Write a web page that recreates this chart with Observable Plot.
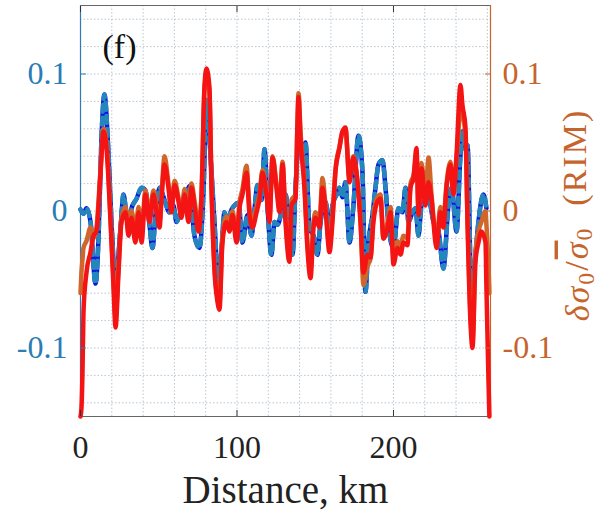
<!DOCTYPE html>
<html><head><meta charset="utf-8">
<script src="https://cdn.jsdelivr.net/npm/d3@7"></script>
<script src="https://cdn.jsdelivr.net/npm/@observablehq/plot@0.6"></script>
<style>body{margin:0;background:#fff;}</style>
</head><body><div id="chart"></div>
<script>
const xTicks = [0, 100, 200];
const yTicks = [-0.1, 0, 0.1];
const panelLabel = "(f)";
const xLabel = "Distance, km";

// Left-axis series (blue solid + teal dashed overlay)
const blueKm = [0,1.9,3.8,6.4,9.6,11.5,13.4,15.3,17.9,19.8,22.4,25.6,27.5,30.0,33.2,35.8,39.0,41.5,44.1,46.0,47.9,50.5,53.7,56.9,59.4,61.3,63.9,67.1,69.6,72.8,76.0,78.6,80.5,82.4,85.6,88.2,90.1,92.0,93.9,96.5,98.4,101.0,103.5,106.7,109.3,111.2,113.1,115.7,117.6,119.5,122.0,124.0,125.9,128.4,131.0,133.5,135.5,137.4,139.9,141.9,143.8,146.3,149.5,151.4,153.4,156.5,159.1,161.0,163.6,165.5,167.4,169.3,171.9,174.4,177.6,180.2,182.1,184.0,186.6,188.5,190.4,193.0,194.9,196.8,200.0,203.2,205.8,207.7,209.6,212.1,214.1,216.0,217.9,220.4,222.4,225.6,228.8,231.9,235.1,237.1,240.3,242.8,244.1,246.0,247.3,249.8,252.4,254.3,257.5,259.4];
const blueVal = [0.001,-0.002,0.002,-0.008,-0.053,-0.02,0.053,0.085,0.041,-0.008,-0.052,-0.012,0.012,-0.007,0.004,0.009,0.017,0.015,-0.01,-0.027,-0.003,0.017,0.008,-0.001,0.004,-0.008,-0.001,0.008,0.018,-0.018,-0.027,0.015,0.081,0.053,-0.008,-0.054,-0.028,-0.001,-0.008,0.001,0.004,0.006,-0.023,-0.003,-0.018,0.001,0.019,0.008,0.045,0.004,-0.032,-0.008,-0.01,-0.001,0.012,-0.015,-0.032,0.017,0.053,0.041,0.05,-0.012,-0.02,-0.032,-0.008,0.007,-0.012,0.004,0.012,0.017,0.01,0.021,-0.023,0.004,0.055,0.028,-0.059,-0.023,-0.003,0.017,0.034,0.037,0.017,-0.01,-0.027,0.002,-0.001,0.017,-0.008,-0.001,0.002,-0.018,0.004,0.008,0.009,-0.008,-0.015,-0.042,0.004,0.017,-0.015,0.041,0.058,0.045,0.048,-0.061,-0.032,-0.008,0.012,0.002];

// Right-axis series (RIM): red and orange
const rimKm = [0,0.6,1.3,1.9,3.8,6.4,8.3,10.2,12.8,14.7,16.6,19.2,21.1,22.4,24.3,26.2,28.8,30.7,32.6,35.1,37.1,39.0,41.5,44.1,46.6,48.6,50.5,51.8,53.7,56.2,58.1,60.1,62.6,64.5,66.5,69.0,70.9,72.8,75.4,77.3,79.2,80.5,82.4,83.7,85.6,87.5,88.8,90.7,93.3,95.2,97.1,99.7,101.6,103.5,106.1,108.0,109.9,112.5,114.4,116.3,118.8,120.8,122.7,125.2,127.2,129.1,131.0,133.5,134.8,137.4,138.7,139.3,140.6,143.1,145.0,147.0,148.9,150.2,152.7,154.6,156.5,159.1,161.0,162.9,165.5,167.4,169.3,171.9,174.4,177.0,178.9,180.8,183.4,185.3,187.2,189.8,191.7,193.6,196.2,198.1,200.0,202.6,204.5,206.4,208.9,210.9,212.8,214.7,216.0,217.9,220.4,222.4,224.3,226.8,227.5,230.0,231.9,233.9,236.4,238.3,240.3,242.8,244.1,246.0,247.3,249.2,250.5,252.4,254.3,256.2,258.8,259.4,260.7,261.3];
const redVal = [-0.15,-0.144,-0.116,-0.074,-0.045,-0.03,-0.018,-0.015,0.028,0.058,0.046,-0.008,-0.056,-0.085,-0.045,-0.008,-0.001,-0.018,-0.005,-0.023,-0.001,-0.023,0.012,-0.008,0.012,-0.001,-0.012,0.009,0.034,0.017,-0.001,0.019,0.007,-0.005,0.012,-0.008,0.017,0.004,-0.015,0.009,0.09,0.104,0.09,0.017,-0.043,-0.066,-0.072,-0.023,-0.008,-0.015,-0.003,-0.023,0.002,0.012,0.028,-0.003,-0.012,-0.001,0.009,0.028,0.012,-0.008,0.039,0.017,-0.001,0.034,-0.008,-0.037,0.004,0.009,0.065,0.083,0.053,0.017,-0.027,-0.049,-0.012,-0.005,-0.012,0.017,0.002,-0.03,-0.008,0.028,0.046,0.058,0.061,0.021,0.039,0.021,-0.008,-0.045,-0.032,-0.034,-0.008,0.007,0.009,-0.02,-0.012,-0.001,-0.039,-0.027,-0.032,-0.023,-0.025,0.017,0.024,0.046,-0.003,0.031,0.004,0.021,0.009,-0.023,-0.027,-0.001,-0.012,0.017,0.034,0.012,0.041,0.092,0.077,0.061,-0.008,-0.081,-0.1,-0.037,-0.023,-0.015,-0.023,-0.056,-0.123,-0.15];
const orangeVal = [-0.06,-0.045,-0.035,-0.027,-0.022,-0.012,-0.02,-0.012,0.03,0.06,0.05,-0.005,-0.05,-0.078,-0.04,-0.005,0.003,-0.012,0.0,-0.015,0.003,-0.015,0.015,-0.004,0.015,0.003,-0.008,0.012,0.04,0.02,0.003,0.022,0.01,-0.001,0.016,-0.004,0.02,0.008,-0.01,0.012,0.088,0.1,0.086,0.02,-0.04,-0.062,-0.066,-0.02,-0.004,-0.01,0.0,-0.018,0.006,0.016,0.033,0.002,-0.008,0.003,0.012,0.03,0.015,-0.004,0.04,0.02,0.003,0.036,-0.004,-0.03,0.008,0.012,0.068,0.086,0.058,0.02,-0.022,-0.042,-0.008,-0.001,-0.008,0.024,0.005,-0.025,-0.004,0.03,0.047,0.058,0.06,0.024,0.04,0.022,-0.004,-0.054,-0.04,-0.035,-0.004,0.01,0.012,-0.02,-0.008,0.003,-0.033,-0.022,-0.026,-0.018,-0.02,0.02,0.026,0.04,0.002,0.035,0.01,0.039,0.012,-0.018,-0.022,0.003,-0.006,0.02,0.036,0.015,0.038,0.072,0.07,0.055,-0.004,-0.075,-0.095,-0.03,-0.015,-0.008,0.0,-0.01,-0.04,-0.06];

const LEFT = "#2a7db5", RIGHT = "#c5642c";
const blue = blueKm.map((k, i) => ({km: k, v: blueVal[i]}));
const red = rimKm.map((k, i) => ({km: k, v: redVal[i]}));
const orange = rimKm.map((k, i) => ({km: k, v: orangeVal[i]}));
const gridXv = d3.range(0, 261, 20);
const gridYv = d3.range(-14, 15, 2).map(v => v / 100);
const gridStyle = {stroke: "#b9c6d2", strokeOpacity: 1, strokeDasharray: "1.5,2"};
const fmt = d => String(d);

const chart = Plot.plot({
  width: 602, height: 512,
  marginLeft: 80, marginRight: 112, marginTop: 5, marginBottom: 96,
  style: "font-family: 'Liberation Serif'; background: #fff;",
  x: {domain: [0, 262]},
  y: {domain: [-0.15, 0.15]},
  marks: [
    Plot.gridX(gridXv, gridStyle),
    Plot.gridY(gridYv, gridStyle),
    Plot.frame({stroke: "#666"}),
    Plot.ruleX([0], {stroke: LEFT, strokeWidth: 1.2}),
    Plot.ruleX([262], {stroke: RIGHT, strokeWidth: 1.2}),
    Plot.line(blue, {x: "km", y: "v", stroke: "#0c14e0", strokeWidth: 4.5, curve: "monotone-x"}),
    Plot.line(blue, {x: "km", y: "v", stroke: "#2386bd", strokeWidth: 4.5, strokeDasharray: "7,6", curve: "monotone-x"}),
    Plot.line(orange, {x: "km", y: "v", stroke: "#d0662a", strokeWidth: 4.5, curve: "monotone-x"}),
    Plot.line(red, {x: "km", y: "v", stroke: "#f51414", strokeWidth: 4.5, curve: "monotone-x"}),
    Plot.axisX(xTicks, {anchor: "bottom", tickSize: 0, tickPadding: 19, fontSize: 32, color: "#222", label: null}),
    Plot.axisX(xTicks, {anchor: "bottom", tickSize: -6, tickFormat: () => "", color: "#333", label: null}),
    Plot.axisX(xTicks, {anchor: "top", tickSize: -6, tickFormat: () => "", color: "#333", label: null}),
    Plot.axisY(yTicks, {anchor: "left", tickSize: 0, tickPadding: 13, fontSize: 32, color: LEFT, tickFormat: fmt, label: null}),
    Plot.axisY(yTicks, {anchor: "left", tickSize: -6, tickFormat: () => "", color: LEFT, label: null}),
    Plot.axisY(yTicks, {anchor: "right", tickSize: 0, tickPadding: 12, fontSize: 32, color: RIGHT, tickFormat: fmt, label: null}),
    Plot.axisY(yTicks, {anchor: "right", tickSize: -6, tickFormat: () => "", color: RIGHT, label: null}),
    Plot.text([panelLabel], {frameAnchor: "top-left", dx: 22, dy: 42, textAnchor: "start", lineAnchor: "middle", fontSize: 34, fill: "#111"}),
    Plot.text([xLabel], {frameAnchor: "bottom", dy: 74, textAnchor: "middle", lineAnchor: "middle", fontSize: 39, fill: "#222"}),
    Plot.text(["RIMLABEL"], {frameAnchor: "right", dx: 88, dy: 4, rotate: -90, textAnchor: "middle", lineAnchor: "middle", fontSize: 34, fill: RIGHT})
  ]
});
document.getElementById("chart").appendChild(chart);

// Right-axis title: italic symbols, subscripts and an overline on the mean
const lab = d3.select(chart).selectAll("text").filter(function() { return this.textContent === "RIMLABEL"; });
lab.text(null).attr("letter-spacing", "2px");
lab.append("tspan").attr("font-style", "italic").text("δσ");
lab.append("tspan").attr("font-size", "0.7em").attr("dy", "0.18em").text("0");
lab.append("tspan").attr("dy", "-0.18em").text("/");
lab.append("tspan").attr("font-style", "italic").style("text-decoration", "overline").text("σ");
lab.append("tspan").attr("font-size", "0.7em").attr("dy", "0.18em").text("0");
lab.append("tspan").attr("dy", "-0.18em").text("\u00a0\u00a0(RIM)");
</script>
</body></html>
